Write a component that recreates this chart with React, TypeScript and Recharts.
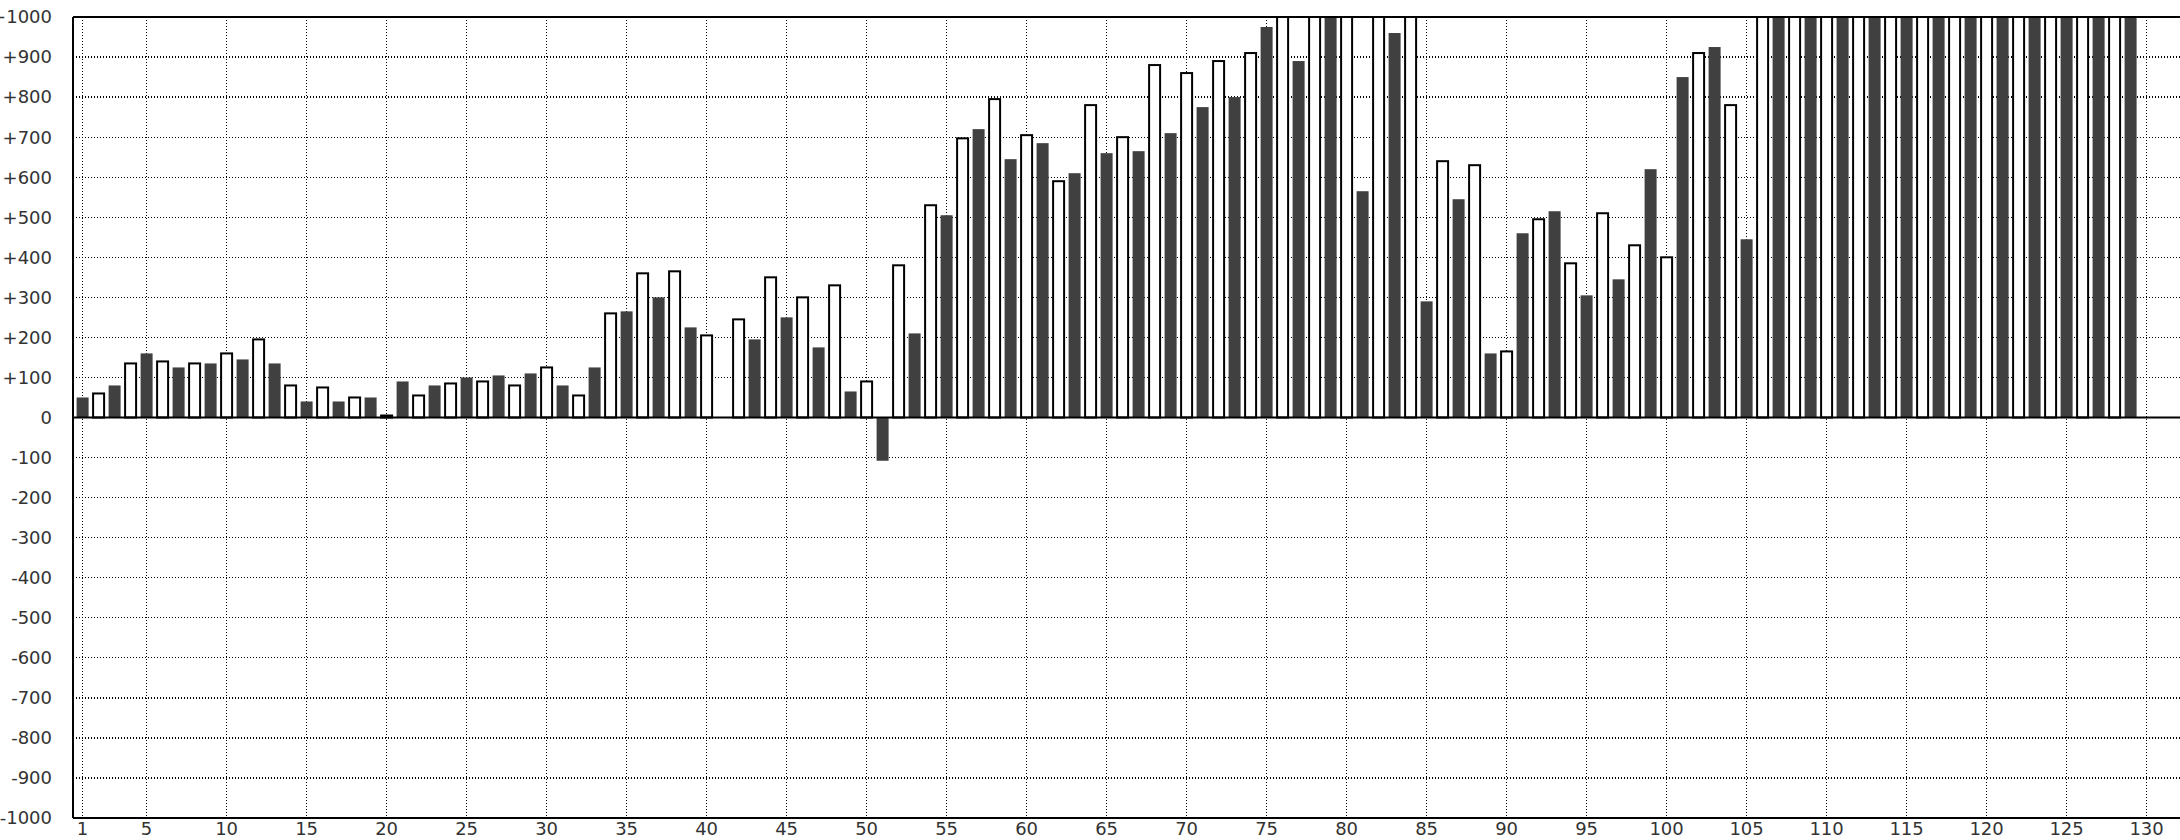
import React from 'react';
import { BarChart, Bar, XAxis, YAxis, CartesianGrid, ReferenceLine } from 'recharts';

// Odd positions 1,3,5,...,129 (dark bars)
const darkValues: (number | null)[] = [
  50, 80, 160, 125, 135, 145, 135, 40, 40, 50,
  90, 80, 100, 105, 110, 80, 125, 265, 300, 225,
  null, 195, 250, 175, 65, -108, 210, 505, 720, 645,
  685, 610, 660, 665, 710, 775, 800, 975, 890, 1200,
  565, 960, 290, 545, 160, 460, 515, 305, 345, 620,
  850, 925, 445, 1200, 1200, 1200, 1200, 1200, 1200, 1200,
  1200, 1200, 1200, 1200, 1200,
];

// Even positions 2,4,6,...,128 (white bars)
const whiteValues: (number | null)[] = [
  60, 135, 140, 135, 160, 195, 80, 75, 50, 5,
  55, 85, 90, 80, 125, 55, 260, 360, 365, 205,
  245, 350, 300, 330, 90, 380, 530, 697, 795, 705,
  590, 780, 700, 880, 860, 890, 910, 1200, 1200, 1200,
  1200, 1200, 640, 630, 165, 495, 385, 510, 430, 400,
  910, 780, 1200, 1200, 1200, 1200, 1200, 1200, 1200, 1200,
  1200, 1200, 1200, 1200,
];

const xTicks = [1, 5, 10, 15, 20, 25, 30, 35, 40, 45, 50, 55, 60, 65, 70, 75, 80, 85, 90, 95, 100, 105, 110, 115, 120, 125, 130];
const yTicks = [-1000, -900, -800, -700, -600, -500, -400, -300, -200, -100, 0, 100, 200, 300, 400, 500, 600, 700, 800, 900, 1000];

type Row = { pos: number; v: number | null; kind: 'dark' | 'white' };
const rows: Row[] = [];
const total = darkValues.length + whiteValues.length;
for (let i = 1; i <= total; i++) {
  if (i % 2 === 1) rows.push({ pos: i, v: darkValues[(i - 1) / 2], kind: 'dark' });
  else rows.push({ pos: i, v: whiteValues[i / 2 - 1], kind: 'white' });
}

const FONT = '"DejaVu Sans", sans-serif';

const BarShape = (props: any) => {
  const { x, y, width, height, payload } = props;
  if (!payload || payload.v === null || payload.v === undefined) return <g />;
  if (!isFinite(x) || !isFinite(y) || !isFinite(width) || !isFinite(height)) return <g />;
  const top = Math.min(y, y + height);
  const h = Math.abs(height);
  if (payload.kind === 'dark') {
    return <rect x={x} y={top} width={width} height={h} fill="#404040" />;
  }
  return (
    <rect x={x + 0.5} y={top} width={Math.max(width - 1, 0)} height={h} fill="#ffffff" stroke="#000000" strokeWidth={2} />
  );
};

const fmtY = (v: number) => (v > 0 ? '+' + v : String(v));

export default function App() {
  return (
    <div style={{ position: 'fixed', left: 0, top: 0, width: 2180, height: 840, overflow: 'hidden', background: '#fff' }}>
      <BarChart
        width={2185}
        height={840}
        data={rows}
        margin={{ top: 17, right: 0, bottom: 0, left: 0 }}
        barSize={12}
      >
        <CartesianGrid stroke="#000" strokeDasharray="1 2" strokeWidth={1.3} shapeRendering="crispEdges" />
        <XAxis
          dataKey="pos"
          type="number"
          domain={[0.4, 132.4]}
          allowDataOverflow
          ticks={xTicks}
          interval={0}
          height={22}
          tickSize={0}
          tickMargin={4}
          axisLine={{ stroke: '#000', strokeWidth: 2 }}
          tickLine={false}
          tick={{ fill: '#333', fontSize: 18, fontFamily: FONT }}
        />
        <YAxis
          type="number"
          domain={[-1000, 1000]}
          allowDataOverflow
          ticks={yTicks}
          interval={0}
          width={73}
          tickSize={0}
          tickMargin={21}
          tickFormatter={fmtY}
          axisLine={{ stroke: '#000', strokeWidth: 2 }}
          tickLine={false}
          tick={{ fill: '#333', fontSize: 18, fontFamily: FONT }}
        />
        <Bar dataKey="v" isAnimationActive={false} shape={BarShape} />
        <ReferenceLine y={0} stroke="#000" strokeWidth={2} />
        <ReferenceLine y={1000} stroke="#000" strokeWidth={2} />
      </BarChart>
    </div>
  );
}
